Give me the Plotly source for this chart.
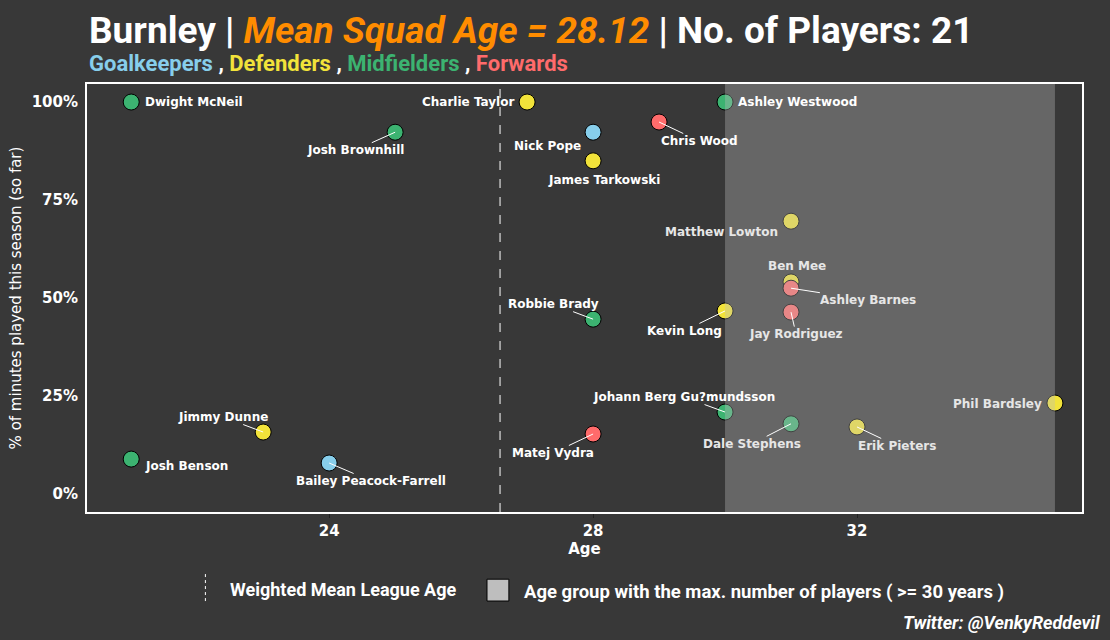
import plotly.graph_objects as go

# player data
players = ["Dwight McNeil", "Josh Brownhill", "Charlie Taylor", "Nick Pope", "James Tarkowski",
           "Chris Wood", "Ashley Westwood", "Matthew Lowton", "Ben Mee", "Ashley Barnes",
           "Jay Rodriguez", "Kevin Long", "Robbie Brady", "Johann Berg Gu?mundsson",
           "Dale Stephens", "Erik Pieters", "Phil Bardsley", "Matej Vydra", "Jimmy Dunne",
           "Josh Benson", "Bailey Peacock-Farrell"]
ages = [21, 25, 27, 28, 28, 29, 30, 31, 31, 31, 31, 30, 28, 30, 31, 32, 35, 28, 23, 21, 24]
minutes_pct = [1.00, 0.923, 1.00, 0.923, 0.85, 0.949, 1.00, 0.696, 0.541, 0.525, 0.464, 0.467,
               0.446, 0.209, 0.179, 0.171, 0.232, 0.153, 0.158, 0.089, 0.079]
positions = ["MID", "MID", "DEF", "GK", "DEF", "FWD", "MID", "DEF", "DEF", "FWD", "FWD", "DEF",
             "MID", "MID", "MID", "DEF", "DEF", "FWD", "DEF", "MID", "GK"]

mean_league_age = 26.59
max_group = [30, 35]
x_ticks = [24, 28, 32]
y_ticks = [0, 0.25, 0.5, 0.75, 1.0]
y_ticklabels = ["0%", "25%", "50%", "75%", "100%"]

pos_colors = {"GK": "#87CEEB", "DEF": "#F2E33A", "MID": "#3CB371", "FWD": "#FF6B6B"}
pos_names = {"GK": "Goalkeepers", "DEF": "Defenders", "MID": "Midfielders", "FWD": "Forwards"}

# label placement (pixel offsets) -> (dx, dy, arrow, anchor)
label_pos = {
    "Dwight McNeil": (12, 0, False, "left"),
    "Josh Brownhill": (-40, 18, True, "center"),
    "Charlie Taylor": (-11, 0, False, "right"),
    "Nick Pope": (-46, 14, False, "center"),
    "James Tarkowski": (11, 19, False, "center"),
    "Chris Wood": (40, 19, True, "center"),
    "Ashley Westwood": (11, 0, False, "left"),
    "Matthew Lowton": (-70, 11, False, "center"),
    "Ben Mee": (6, -16, False, "center"),
    "Ashley Barnes": (77, 12, True, "center"),
    "Jay Rodriguez": (5, 22, True, "center"),
    "Kevin Long": (-41, 20, True, "center"),
    "Robbie Brady": (-40, -15, True, "center"),
    "Johann Berg Gu?mundsson": (-41, -15, True, "center"),
    "Dale Stephens": (-39, 20, True, "center"),
    "Erik Pieters": (40, 19, True, "center"),
    "Phil Bardsley": (-11, 1, False, "right"),
    "Matej Vydra": (-40, 19, True, "center"),
    "Jimmy Dunne": (-40, -15, True, "center"),
    "Josh Benson": (12, 7, False, "left"),
    "Bailey Peacock-Farrell": (42, 18, True, "center"),
}

bg = "#383838"
fig = go.Figure()

fig.add_trace(go.Scatter(
    x=ages, y=minutes_pct, mode="markers",
    marker=dict(size=16, color=[pos_colors[p] for p in positions],
                line=dict(color="black", width=1)),
    text=players, hoverinfo="text", showlegend=False,
))

# shaded age group (drawn over points like the original)
fig.add_shape(type="rect", xref="x", yref="paper", x0=max_group[0], x1=max_group[1], y0=0, y1=1,
              fillcolor="#BEBEBE", opacity=0.35, line_width=0, layer="above")
fig.add_shape(type="line", xref="x", yref="paper", x0=mean_league_age, x1=mean_league_age, y0=0, y1=1,
              line=dict(color="white", width=1, dash="dash"), layer="below")

for name, a, m in zip(players, ages, minutes_pct):
    dx, dy, arrow, anchor = label_pos[name]
    col = "#E6E6E6" if a >= max_group[0] + 0.5 else "white"
    font = dict(family="DejaVu Sans", size=12, color=col, weight="bold")
    if arrow:
        fig.add_annotation(x=a, y=m, text=name, showarrow=True, ax=dx, ay=dy,
                           arrowhead=0, arrowwidth=1, arrowcolor="white", standoff=0,
                           font=font, borderpad=0)
    else:
        fig.add_annotation(x=a, y=m, text=name, showarrow=False, xanchor=anchor,
                           xshift=dx, yshift=-dy, font=font)

# title / subtitle
fig.add_annotation(xref="paper", yref="paper", x=0, y=1, yshift=54, xanchor="left", yanchor="middle",
                   showarrow=False,
                   text="Burnley | <i><span style='color:#FF8C00'>Mean Squad Age = 28.12</span></i> | No. of Players: 21",
                   font=dict(family="Roboto", size=37, color="white", weight="bold"))
subtitle = " , ".join(f"<span style='color:{pos_colors[k]}'>{pos_names[k]}</span>" for k in ["GK", "DEF", "MID", "FWD"])
fig.add_annotation(xref="paper", yref="paper", x=0, y=1, yshift=21, xanchor="left", yanchor="middle",
                   showarrow=False, text=subtitle,
                   font=dict(family="Roboto", size=22, color="white", weight="bold"))

# bottom legend
fig.add_shape(type="line", xref="paper", yref="paper", x0=0.119, x1=0.119, y0=-0.145, y1=-0.21,
              line=dict(color="white", width=1, dash="3px,3px"))
fig.add_annotation(xref="paper", yref="paper", x=0.142, y=-0.182, xanchor="left", yanchor="middle",
                   showarrow=False, text="Weighted Mean League Age",
                   font=dict(family="Roboto", size=18, color="white", weight="bold"))
fig.add_shape(type="rect", xref="paper", yref="paper", x0=0.402, x1=0.424, y0=-0.157, y1=-0.208,
              fillcolor="#BEBEBE", line=dict(color="black", width=1))
fig.add_annotation(xref="paper", yref="paper", x=0.437, y=-0.187, xanchor="left", yanchor="middle",
                   showarrow=False, text="Age group with the max. number of players ( >= 30 years )",
                   font=dict(family="Roboto", size=18.5, color="white", weight="bold"))
fig.add_annotation(xref="paper", yref="paper", x=1.02, y=-0.259, xanchor="right", yanchor="middle",
                   showarrow=False, text="<i>Twitter: @VenkyReddevil</i>",
                   font=dict(family="Roboto", size=18, color="white", weight="bold"))

fig.update_xaxes(range=[20.33, 35.41], tickvals=x_ticks, showgrid=False, zeroline=False,
                 showline=True, mirror=True, linecolor="white", linewidth=2,
                 ticks="outside", ticklen=4, tickcolor="#222222",
                 tickfont=dict(family="DejaVu Sans", size=15, color="white", weight="bold"),
                 title=dict(text="Age", standoff=4,
                            font=dict(family="DejaVu Sans", size=15, color="white", weight="bold")))
fig.update_yaxes(range=[-0.046, 1.046], tickvals=y_ticks, ticktext=y_ticklabels, showgrid=False,
                 zeroline=False, showline=True, mirror=True, linecolor="white", linewidth=2,
                 ticks="outside", ticklen=4, tickcolor=bg,
                 tickfont=dict(family="DejaVu Sans", size=15, color="white", weight="bold"),
                 title=dict(text="% of minutes played this season (so far)", standoff=6,
                            font=dict(family="DejaVu Sans", size=15, color="white")))

fig.update_layout(width=1110, height=640, paper_bgcolor=bg, plot_bgcolor=bg,
                  margin=dict(l=87, r=28, t=84, b=128), showlegend=False)

fig.write_html("out.html", config={"displayModeBar": False},
               post_script="document.body.style.margin='0';document.body.style.background='#383838';")
